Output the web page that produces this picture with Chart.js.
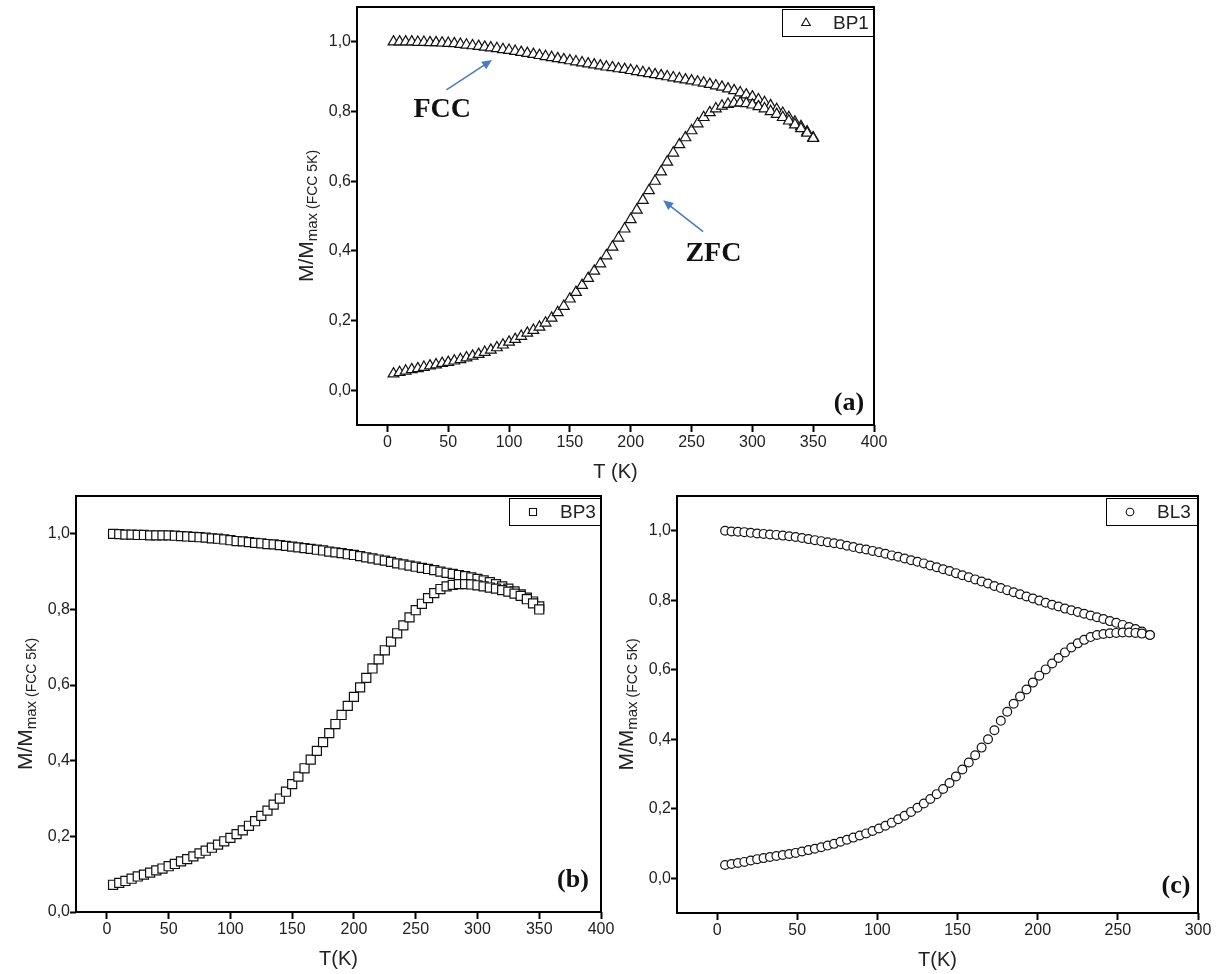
<!DOCTYPE html>
<html>
<head>
<meta charset="utf-8">
<script src="https://cdn.jsdelivr.net/npm/chart.js@4.4.1/dist/chart.umd.min.js"></script>
<style>
  html, body { margin: 0; padding: 0; background: #fff; }
  body { width: 1219px; height: 974px; position: relative; overflow: hidden; }
  canvas { position: absolute; }
</style>
</head>
<body>
<canvas id="chartA" width="620" height="497" style="left:280px;top:-7px"></canvas>
<canvas id="chartB" width="620" height="492" style="left:0px;top:482px"></canvas>
<canvas id="chartC" width="609" height="492" style="left:610px;top:482px"></canvas>
<script>
// tick values / labels
const xTicksAB = [0, 50, 100, 150, 200, 250, 300, 350, 400];
const xTicksC = [0, 50, 100, 150, 200, 250, 300];
const yTicks = [0, 0.2, 0.4, 0.6, 0.8, 1.0];
const yTickLabels = ["0,0", "0,2", "0,4", "0,6", "0,8", "1,0"];

// (a) BP1 - temperatures (K)
const tempBP1 = [5,10,15,20,25,30,35,40,45,50,55,60,65,70,75,80,85,90,95,100,
  105,110,115,120,125,130,135,140,145,150,155,160,165,170,175,180,185,190,195,200,
  205,210,215,220,225,230,235,240,245,250,255,260,265,270,275,280,285,290,295,300,
  305,310,315,320,325,330,335,340,345,350];
const fccBP1 = [1.000,1.000,1.000,1.000,0.999,0.999,0.998,0.998,0.997,0.996,0.995,0.993,0.991,0.989,0.987,0.985,0.983,0.981,0.978,0.976,
  0.973,0.970,0.967,0.964,0.961,0.958,0.955,0.952,0.949,0.946,0.943,0.940,0.937,0.934,0.931,0.928,0.926,0.923,0.921,0.918,
  0.915,0.912,0.909,0.906,0.903,0.900,0.897,0.894,0.891,0.888,0.885,0.882,0.878,0.874,0.870,0.865,0.860,0.854,0.848,0.842,
  0.834,0.826,0.817,0.806,0.795,0.783,0.770,0.757,0.742,0.725];
const zfcBP1 = [0.047,0.051,0.055,0.059,0.062,0.066,0.070,0.073,0.077,0.080,0.084,0.088,0.093,0.098,0.103,0.109,0.115,0.122,0.130,0.138,
  0.146,0.155,0.164,0.172,0.181,0.193,0.207,0.223,0.241,0.262,0.281,0.301,0.321,0.342,0.363,0.386,0.411,0.437,0.463,0.490,
  0.517,0.545,0.573,0.600,0.627,0.655,0.681,0.705,0.725,0.745,0.765,0.783,0.797,0.808,0.816,0.821,0.824,0.825,0.823,0.819,
  0.814,0.808,0.800,0.792,0.783,0.773,0.762,0.751,0.738,0.723];

// (b) BP3
const tempBP3 = [5,10,15,20,25,30,35,40,45,50,55,60,65,70,75,80,85,90,95,100,
  105,110,115,120,125,130,135,140,145,150,155,160,165,170,175,180,185,190,195,200,
  205,210,215,220,225,230,235,240,245,250,255,260,265,270,275,280,285,290,295,300,
  305,310,315,320,325,330,335,340,345,350];
const fccBP3 = [1.000,0.999,0.998,0.998,0.997,0.997,0.996,0.996,0.996,0.996,0.995,0.994,0.993,0.992,0.991,0.990,0.988,0.987,0.985,0.983,
  0.981,0.980,0.978,0.976,0.975,0.973,0.972,0.970,0.968,0.966,0.964,0.962,0.960,0.958,0.956,0.953,0.951,0.949,0.946,0.944,
  0.941,0.938,0.935,0.932,0.929,0.926,0.922,0.919,0.916,0.913,0.910,0.907,0.904,0.900,0.897,0.894,0.891,0.888,0.885,0.881,
  0.877,0.872,0.867,0.861,0.855,0.848,0.840,0.831,0.821,0.808];
const zfcBP3 = [0.072,0.077,0.082,0.088,0.094,0.099,0.104,0.110,0.115,0.121,0.127,0.134,0.140,0.147,0.155,0.162,0.170,0.178,0.187,0.196,
  0.206,0.216,0.228,0.240,0.254,0.268,0.284,0.300,0.318,0.338,0.358,0.380,0.403,0.426,0.449,0.473,0.497,0.521,0.545,0.569,
  0.594,0.619,0.644,0.668,0.692,0.715,0.737,0.758,0.779,0.798,0.815,0.830,0.843,0.854,0.861,0.865,0.867,0.867,0.866,0.864,
  0.861,0.858,0.855,0.851,0.847,0.842,0.836,0.827,0.816,0.800];

// (c) BL3
const tempBL3 = [5,9,13,17,21,25,29,33,37,41,45,49,53,57,61,65,69,73,77,81,
  85,89,93,97,101,105,109,113,117,121,125,129,133,137,141,145,149,153,157,161,
  165,169,173,177,181,185,189,193,197,201,205,209,213,217,221,225,229,233,237,241,
  245,249,253,257,261,265,270];
const fccBL3 = [1.000,0.998,0.997,0.996,0.994,0.992,0.991,0.989,0.988,0.986,0.984,0.982,0.979,0.976,0.973,0.970,0.967,0.964,0.961,0.957,
  0.953,0.949,0.946,0.942,0.938,0.934,0.929,0.925,0.920,0.915,0.911,0.906,0.900,0.895,0.889,0.884,0.878,0.872,0.866,0.860,
  0.854,0.848,0.841,0.835,0.829,0.823,0.817,0.811,0.805,0.799,0.793,0.787,0.782,0.776,0.771,0.766,0.761,0.756,0.751,0.746,
  0.740,0.735,0.729,0.723,0.717,0.710,0.700];
const zfcBL3 = [0.038,0.041,0.044,0.047,0.051,0.055,0.058,0.061,0.064,0.067,0.070,0.073,0.077,0.081,0.085,0.089,0.094,0.099,0.105,0.111,
  0.117,0.123,0.129,0.136,0.143,0.151,0.160,0.170,0.180,0.191,0.203,0.215,0.228,0.242,0.257,0.274,0.293,0.313,0.333,0.354,
  0.376,0.400,0.426,0.453,0.479,0.502,0.523,0.543,0.563,0.583,0.601,0.618,0.634,0.650,0.664,0.676,0.686,0.694,0.700,0.703,
  0.705,0.706,0.707,0.707,0.706,0.704,0.700];

Chart.defaults.font.family = "'Liberation Sans', Arial, sans-serif";
Chart.defaults.color = '#222';

const SANS = "'Liberation Sans', Arial, sans-serif";
const SERIF = "'Liberation Serif', 'Times New Roman', serif";

function toPoints(xs, ys) {
  return xs.map((x, i) => ({ x: x, y: ys[i] }));
}

function drawSymbol(ctx, style, r, x, y) {
  ctx.save();
  ctx.strokeStyle = '#111';
  ctx.fillStyle = '#fff';
  ctx.lineWidth = 1.1;
  ctx.beginPath();
  if (style === 'triangle') {
    let a = 0;
    ctx.moveTo(x + Math.sin(a) * r, y - Math.cos(a) * r);
    a += Math.PI * 2 / 3;
    ctx.lineTo(x + Math.sin(a) * r, y - Math.cos(a) * r);
    a += Math.PI * 2 / 3;
    ctx.lineTo(x + Math.sin(a) * r, y - Math.cos(a) * r);
    ctx.closePath();
  } else if (style === 'rect') {
    const s = r / Math.SQRT2;
    ctx.rect(x - s, y - s, 2 * s, 2 * s);
  } else {
    ctx.arc(x, y, r, 0, Math.PI * 2);
  }
  ctx.fill();
  ctx.stroke();
  ctx.restore();
}

// frame, axis titles, legend box, panel letter and annotations
const decor = {
  id: 'decor',
  afterDraw(chart, args, opts) {
    const ctx = chart.ctx;
    const a = chart.chartArea;
    const xs = chart.scales.x, ys = chart.scales.y;
    ctx.save();

    // frame
    ctx.strokeStyle = '#000';
    ctx.lineWidth = 2;
    ctx.strokeRect(a.left, a.top, a.right - a.left, a.bottom - a.top);

    // x title
    ctx.fillStyle = '#222';
    ctx.font = '20px ' + SANS;
    ctx.textAlign = 'center';
    ctx.textBaseline = 'middle';
    ctx.fillText(opts.xTitle, (a.left + a.right) / 2, a.bottom + 47);

    // y title: M/M_max (FCC 5K)
    ctx.save();
    ctx.translate(a.left - 51, (a.top + a.bottom) / 2);
    ctx.rotate(-Math.PI / 2);
    ctx.textBaseline = 'alphabetic';
    ctx.textAlign = 'left';
    const parts = [
      { t: 'M/M', f: '21px ' + SANS, dy: 7 },
      { t: 'max', f: '15px ' + SANS, dy: 11 },
      { t: ' (FCC 5K)', f: '14px ' + SANS, dy: 11 }
    ];
    let total = 0;
    parts.forEach(p => { ctx.font = p.f; p.w = ctx.measureText(p.t).width; total += p.w; });
    let px = -total / 2;
    parts.forEach(p => { ctx.font = p.f; ctx.fillText(p.t, px, p.dy); px += p.w; });
    ctx.restore();

    // legend box
    const bw = 92, bh = 28;
    const bx = a.right - bw, by = a.top + 2;
    ctx.fillStyle = '#fff';
    ctx.fillRect(bx, by, bw, bh);
    ctx.strokeStyle = '#000';
    ctx.lineWidth = 1;
    ctx.strokeRect(bx + 0.5, by + 0.5, bw - 1, bh - 1);
    drawSymbol(ctx, opts.symbol, opts.legendRadius, bx + 24, by + bh / 2);
    ctx.fillStyle = '#222';
    ctx.font = '19px ' + SANS;
    ctx.textAlign = 'left';
    ctx.textBaseline = 'middle';
    ctx.fillText(opts.legendText, bx + 51, by + bh / 2 + 1);

    // panel letter
    ctx.fillStyle = '#111';
    ctx.font = 'bold 26px ' + SERIF;
    ctx.textAlign = 'center';
    ctx.textBaseline = 'middle';
    ctx.fillText(opts.letter, a.right - opts.letterDx, a.bottom - opts.letterDy);

    // arrows (data coordinates)
    (opts.arrows || []).forEach(ar => {
      const x1 = xs.getPixelForValue(ar.from[0]), y1 = ys.getPixelForValue(ar.from[1]);
      const x2 = xs.getPixelForValue(ar.to[0]), y2 = ys.getPixelForValue(ar.to[1]);
      const ang = Math.atan2(y2 - y1, x2 - x1);
      const hl = 10, hw = 4.5;
      ctx.strokeStyle = '#4a7cc2';
      ctx.fillStyle = '#4a7cc2';
      ctx.lineWidth = 1.6;
      ctx.beginPath();
      ctx.moveTo(x1, y1);
      ctx.lineTo(x2 - Math.cos(ang) * hl * 0.8, y2 - Math.sin(ang) * hl * 0.8);
      ctx.stroke();
      ctx.beginPath();
      ctx.moveTo(x2, y2);
      ctx.lineTo(x2 - Math.cos(ang) * hl - Math.sin(ang) * hw, y2 - Math.sin(ang) * hl + Math.cos(ang) * hw);
      ctx.lineTo(x2 - Math.cos(ang) * hl + Math.sin(ang) * hw, y2 - Math.sin(ang) * hl - Math.cos(ang) * hw);
      ctx.closePath();
      ctx.fill();
    });

    // annotation labels
    (opts.labels || []).forEach(lb => {
      ctx.fillStyle = '#111';
      ctx.font = 'bold 28px ' + SERIF;
      ctx.textAlign = 'center';
      ctx.textBaseline = 'middle';
      ctx.fillText(lb.text, xs.getPixelForValue(lb.x), ys.getPixelForValue(lb.y));
    });

    ctx.restore();
  }
};

function makePanel(id, p) {
  const marker = {
    showLine: false,
    pointStyle: p.symbol,
    pointRadius: p.radius,
    pointHoverRadius: p.radius,
    pointBorderWidth: 1.2,
    pointBorderColor: '#111',
    pointBackgroundColor: '#fff'
  };
  return new Chart(document.getElementById(id), {
    type: 'scatter',
    data: {
      datasets: [
        Object.assign({ label: 'ZFC', data: toPoints(p.temps, p.zfc) }, marker),
        Object.assign({ label: 'FCC', data: toPoints(p.temps, p.fcc) }, marker)
      ]
    },
    options: {
      responsive: false,
      animation: false,
      devicePixelRatio: 1,
      events: [],
      layout: { padding: p.padding },
      plugins: {
        legend: { display: false },
        tooltip: { enabled: false },
        decor: p.decor
      },
      scales: {
        x: {
          type: 'linear',
          min: -25,
          max: p.xMax,
          afterBuildTicks: s => { s.ticks = p.xTicks.map(v => ({ value: v })); },
          afterFit: s => { s.height = 30; },
          grid: { drawOnChartArea: false, drawTicks: true, tickLength: 7, tickWidth: 2, tickColor: '#000' },
          border: { display: false },
          ticks: { font: { size: 16 }, color: '#222', padding: 1, maxRotation: 0, autoSkip: false }
        },
        y: {
          type: 'linear',
          min: p.yMin,
          max: 1.1,
          afterBuildTicks: s => { s.ticks = yTicks.map(v => ({ value: v })); },
          afterFit: s => { s.width = 32; },
          grid: { drawOnChartArea: false, drawTicks: true, tickLength: 6, tickWidth: 2, tickColor: '#000' },
          border: { display: false },
          ticks: {
            font: { size: 16 }, color: '#222', padding: 0, autoSkip: false,
            callback: v => {
              const i = yTicks.findIndex(t => Math.abs(t - v) < 1e-6);
              return i >= 0 ? yTickLabels[i] : '';
            }
          }
        }
      }
    },
    plugins: [decor]
  });
}

makePanel('chartA', {
  temps: tempBP1, fcc: fccBP1, zfc: zfcBP1,
  symbol: 'triangle', radius: 6.2,
  xMax: 400, xTicks: xTicksAB, yMin: -0.1,
  padding: { left: 45, top: 14, right: 26, bottom: 35 },
  decor: {
    xTitle: 'T (K)', symbol: 'triangle', legendRadius: 5, legendText: 'BP1',
    letter: '(a)', letterDx: 25, letterDy: 22,
    arrows: [
      { from: [48.5, 0.862], to: [86, 0.948] },
      { from: [259.5, 0.455], to: [226.7, 0.545] }
    ],
    labels: [
      { text: 'FCC', x: 45, y: 0.805 },
      { text: 'ZFC', x: 268, y: 0.391 }
    ]
  }
});

makePanel('chartB', {
  temps: tempBP3, fcc: fccBP3, zfc: zfcBP3,
  symbol: 'rect', radius: 6.4,
  xMax: 400, xTicks: xTicksAB, yMin: 0,
  padding: { left: 44, top: 14, right: 19, bottom: 32 },
  decor: {
    xTitle: 'T(K)', symbol: 'rect', legendRadius: 5, legendText: 'BP3',
    letter: '(b)', letterDx: 28, letterDy: 32
  }
});

makePanel('chartC', {
  temps: tempBL3, fcc: fccBL3, zfc: zfcBL3,
  symbol: 'circle', radius: 4.4,
  xMax: 300, xTicks: xTicksC, yMin: -0.1,
  padding: { left: 35, top: 14, right: 21, bottom: 31 },
  decor: {
    xTitle: 'T(K)', symbol: 'circle', legendRadius: 3.8, legendText: 'BL3',
    letter: '(c)', letterDx: 22, letterDy: 27
  }
});
</script>
</body>
</html>
